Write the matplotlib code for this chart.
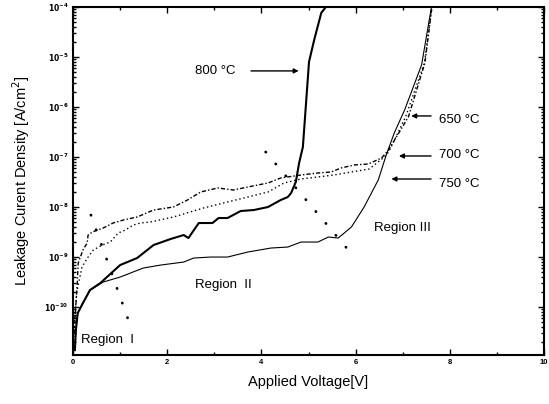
import numpy as np
import matplotlib
matplotlib.use("Agg")
import matplotlib.pyplot as plt
import matplotlib.ticker as mticker

plt.rcParams['font.family'] = ['Liberation Sans', 'DejaVu Sans']

# --- data (voltage in V, log10 of current density) ---
v_800 = [0.04, 0.06, 0.1, 0.21, 0.36, 0.58, 1.0, 1.36, 1.71, 2.07, 2.35, 2.45, 2.67,
         2.96, 3.09, 3.28, 3.56, 3.84, 4.14, 4.41, 4.56, 4.63, 4.73, 4.80, 4.88,
         5.01, 5.12, 5.27, 5.37]
logj_800 = [-10.86, -10.46, -10.12, -9.92, -9.66, -9.52, -9.16, -9.02, -8.76, -8.64,
            -8.56, -8.62, -8.32, -8.32, -8.22, -8.22, -8.08, -8.06, -8.0, -7.86, -7.8,
            -7.72, -7.5, -7.12, -6.8, -5.1, -4.66, -4.12, -4.0]

v_750 = [0.04, 0.06, 0.1, 0.21, 0.36, 0.64, 1.0, 1.49, 1.86, 2.35, 2.56, 2.92, 3.28,
         3.71, 4.2, 4.56, 4.84, 5.2, 5.42, 5.63, 5.91, 6.18, 6.48, 6.65, 6.82, 7.04,
         7.40, 7.61]
logj_750 = [-10.86, -10.46, -10.12, -9.92, -9.66, -9.5, -9.4, -9.22, -9.16, -9.1, -9.02,
            -9.0, -9.0, -8.9, -8.82, -8.8, -8.7, -8.7, -8.6, -8.62, -8.4, -8.0, -7.46,
            -6.96, -6.52, -6.06, -5.16, -4.0]

v_700 = [0.03, 0.08, 0.19, 0.32, 0.43, 0.62, 0.79, 0.96, 1.11, 1.28, 1.43, 1.64, 2.13,
         2.77, 3.28, 3.71, 4.14, 4.48, 4.84, 5.2, 5.54, 5.91, 6.29, 6.61, 6.70, 7.06,
         7.46, 7.62]
logj_700 = [-10.3, -9.7, -9.2, -9.0, -8.86, -8.76, -8.7, -8.52, -8.46, -8.36, -8.32,
            -8.3, -8.2, -8.02, -7.9, -7.8, -7.7, -7.52, -7.44, -7.4, -7.36, -7.3, -7.24,
            -7.0, -6.9, -6.2, -5.12, -4.0]

v_650 = [0.01, 0.09, 0.11, 0.21, 0.30, 0.32, 0.41, 0.64, 0.85, 1.07, 1.36, 1.71, 2.13,
         2.43, 2.71, 3.07, 3.41, 3.71, 4.14, 4.41, 4.84, 5.2, 5.48, 5.69, 5.97, 6.27,
         6.55, 6.70, 7.12, 7.47, 7.62]
logj_650 = [-10.72, -9.52, -9.12, -8.86, -8.72, -8.56, -8.5, -8.42, -8.32, -8.26, -8.2,
            -8.06, -8.0, -7.86, -7.7, -7.62, -7.66, -7.6, -7.52, -7.42, -7.36, -7.32,
            -7.3, -7.22, -7.16, -7.14, -7.02, -6.86, -6.2, -5.12, -4.0]

# region boundaries (dotted guide lines)
v_bound1 = [0.38, 1.19]
logj_bound1 = [-8.16, -10.3]
v_bound2 = [4.09, 5.97]
logj_bound2 = [-6.9, -9.0]

y_decades = [-10, -9, -8, -7, -6, -5, -4]

fig = plt.figure(figsize=(5.49, 4.04), dpi=100)
ax = fig.add_axes([0.133, 0.121, 0.858, 0.862])

ax.plot(v_800, 10.0 ** np.array(logj_800), color='black', lw=1.5)
ax.plot(v_750, 10.0 ** np.array(logj_750), color='black', lw=0.8)
ax.plot(v_700, 10.0 ** np.array(logj_700), color='black', lw=1.0, ls=(0, (1, 2)))
ax.plot(v_650, 10.0 ** np.array(logj_650), color='black', lw=1.0, ls=(0, (3, 1.5, 1, 1.5)))

for vb, lb in [(v_bound1, logj_bound1), (v_bound2, logj_bound2)]:
    ax.plot(vb, 10.0 ** np.array(lb), color='black', lw=2.0,
            ls=(0, (0.1, 5.5)), dash_capstyle='round')

ax.set_yscale('log')
ax.set_xlim(0, 10)
ax.set_ylim(10 ** -10.96, 1e-4)

ax.xaxis.set_major_locator(mticker.MultipleLocator(2))
ax.xaxis.set_minor_locator(mticker.MultipleLocator(1))
ax.yaxis.set_major_locator(mticker.FixedLocator([10.0 ** d for d in y_decades]))
minor = [m * 10.0 ** d for d in range(-11, -4) for m in range(2, 10)]
ax.yaxis.set_minor_locator(mticker.FixedLocator([t for t in minor if 10 ** -10.96 < t < 1e-4]))
ax.yaxis.set_major_formatter(mticker.FixedFormatter(
    [r'$\mathbf{10^{%d}}$' % d for d in y_decades]))
ax.yaxis.set_minor_formatter(mticker.NullFormatter())

ax.tick_params(which='both', direction='in', top=True, right=True, width=1.0)
ax.tick_params(which='major', length=4, labelsize=5.5, pad=3)
ax.tick_params(which='minor', length=2)
for lab in ax.get_xticklabels():
    lab.set_fontweight('bold')
for s in ax.spines.values():
    s.set_linewidth(1.5)

ax.set_xlabel('Applied Voltage[V]', fontsize=10.5, labelpad=6)
ax.set_ylabel('Leakage Curent Density [A/cm$^2$]', fontsize=10.5, labelpad=9)

# labels with arrows
arrow = dict(arrowstyle='-|>', color='black', lw=1.0, mutation_scale=7)
ax.annotate('', xy=(4.85, 10 ** -5.28), xytext=(3.72, 10 ** -5.28), arrowprops=arrow)
ax.text(2.6, 10 ** -5.28, '800 °C', fontsize=9.5, va='center')
ax.annotate('', xy=(7.12, 10 ** -6.18), xytext=(7.66, 10 ** -6.18), arrowprops=arrow)
ax.text(7.78, 10 ** -6.26, '650 °C', fontsize=9.5, va='center')
ax.annotate('', xy=(6.86, 10 ** -6.98), xytext=(7.66, 10 ** -6.98), arrowprops=arrow)
ax.text(7.78, 10 ** -6.96, '700 °C', fontsize=9.5, va='center')
ax.annotate('', xy=(6.70, 10 ** -7.44), xytext=(7.66, 10 ** -7.44), arrowprops=arrow)
ax.text(7.78, 10 ** -7.54, '750 °C', fontsize=9.5, va='center')

ax.text(6.4, 10 ** -8.42, 'Region III', fontsize=9.5, va='center')
ax.text(2.6, 10 ** -9.56, 'Region  II', fontsize=9.5, va='center')
ax.text(0.18, 10 ** -10.66, 'Region  I', fontsize=9.5, va='center')

fig.savefig('out.png', dpi=100)
